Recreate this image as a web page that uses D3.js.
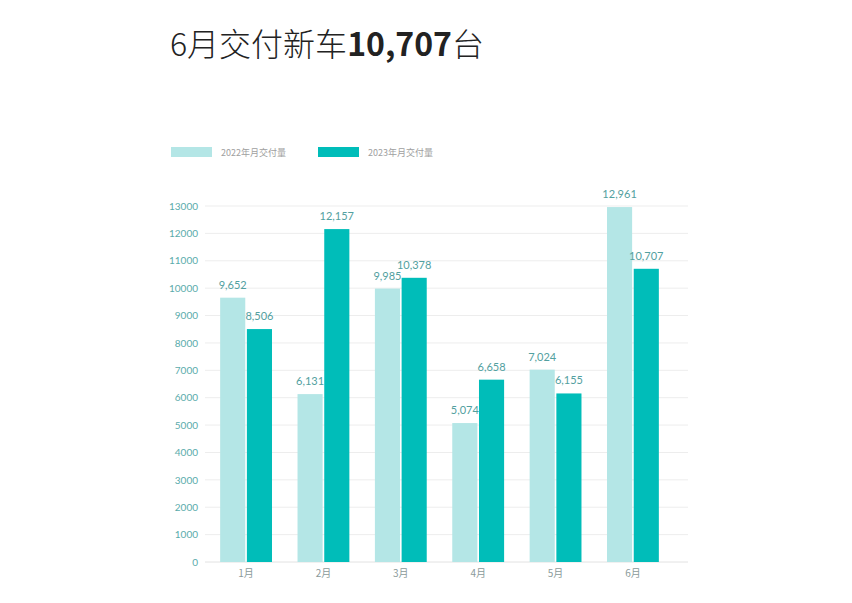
<!DOCTYPE html>
<html>
<head>
<meta charset="utf-8">
<script src="https://cdn.jsdelivr.net/npm/d3@7"></script>
<style>
  body { margin: 0; background: #fff; font-family: Lato, "Noto Sans CJK SC", sans-serif; }
</style>
</head>
<body>
<div id="chart"></div>
<script>
// Chart data
const months = ['1月', '2月', '3月', '4月', '5月', '6月'];
const seriesNames = ['2022年月交付量', '2023年月交付量'];
const values2022 = [9652, 6131, 9985, 5074, 7024, 12961];
const values2023 = [8506, 12157, 10378, 6658, 6155, 10707];
const yTicks = [0, 1000, 2000, 3000, 4000, 5000, 6000, 7000, 8000, 9000, 10000, 11000, 12000, 13000];

const colors = ['#b4e6e6', '#00bdb9'];
const width = 852, height = 603;

const svg = d3.select('#chart').append('svg')
    .attr('width', width)
    .attr('height', height);

// Title
const title = svg.append('text')
    .attr('x', 170)
    .attr('y', 56)
    .style('font-family', '"Noto Sans CJK SC", sans-serif')
    .style('font-size', '32px')
    .style('font-weight', 300)
    .style('fill', '#222');
title.append('tspan').text('6月交付新车');
title.append('tspan').style('font-weight', 'bold').text('10,707');
title.append('tspan').text('台');

// Legend
seriesNames.forEach((name, i) => {
    const x0 = 171 + i * 147;
    svg.append('rect')
        .attr('x', x0).attr('y', 147)
        .attr('width', 41).attr('height', 10)
        .attr('fill', colors[i]);
    svg.append('text')
        .attr('x', x0 + 50).attr('y', 155.5)
        .style('font-family', '"Noto Sans CJK SC", sans-serif')
        .style('font-size', '9px')
        .style('fill', '#a0a0a0')
        .text(name);
});

// Scales
const y = d3.scaleLinear().domain([0, 13000]).range([562, 206]);
const x0 = d3.scaleBand().domain(months).range([207, 672]).paddingInner(0.33).paddingOuter(0.17);
const x1 = d3.scaleBand().domain([0, 1]).range([0, x0.bandwidth()]).paddingInner(0.06);

// Gridlines
svg.append('g').selectAll('line')
    .data(yTicks)
    .join('line')
    .attr('x1', 205).attr('x2', 688)
    .attr('y1', d => y(d)).attr('y2', d => y(d))
    .attr('stroke', d => d === 0 ? '#e2e2e2' : '#ededed')
    .attr('stroke-width', 1);

// Y axis labels
const yAxis = d3.axisLeft(y).tickValues(yTicks).tickSize(0).tickPadding(0).tickFormat(d3.format('d'));
const yAxisG = svg.append('g')
    .attr('transform', 'translate(198,0)')
    .call(yAxis);
yAxisG.select('.domain').remove();
yAxisG.selectAll('text')
    .style('font-family', 'Lato, sans-serif')
    .style('font-size', '10px')
    .style('fill', '#5aabab');

// X axis labels
const xAxis = d3.axisBottom(x0).tickSize(0).tickPadding(0);
const xAxisG = svg.append('g')
    .attr('transform', 'translate(0,570)')
    .call(xAxis);
xAxisG.select('.domain').remove();
xAxisG.selectAll('text')
    .style('font-family', '"Noto Sans CJK SC", sans-serif')
    .style('font-size', '10px')
    .style('fill', '#8a9a9a');

// Bars
const rows = months.map((m, i) => ({ month: m, vals: [values2022[i], values2023[i]] }));
const groups = svg.append('g').selectAll('g')
    .data(rows)
    .join('g')
    .attr('transform', d => `translate(${x0(d.month)},0)`);

groups.selectAll('rect')
    .data(d => d.vals.map((v, k) => ({ k, v })))
    .join('rect')
    .attr('x', d => x1(d.k))
    .attr('y', d => y(d.v))
    .attr('width', x1.bandwidth())
    .attr('height', d => y(0) - y(d.v))
    .attr('fill', d => colors[d.k]);

groups.selectAll('text.value')
    .data(d => d.vals.map((v, k) => ({ k, v })))
    .join('text')
    .attr('class', 'value')
    .attr('x', d => x1(d.k) + x1.bandwidth() / 2)
    .attr('y', d => y(d.v) - 9)
    .attr('text-anchor', 'middle')
    .style('font-family', 'Lato, sans-serif')
    .style('font-size', '11px')
    .style('fill', '#52a0a0')
    .text(d => d3.format(',')(d.v));
</script>
</body>
</html>
